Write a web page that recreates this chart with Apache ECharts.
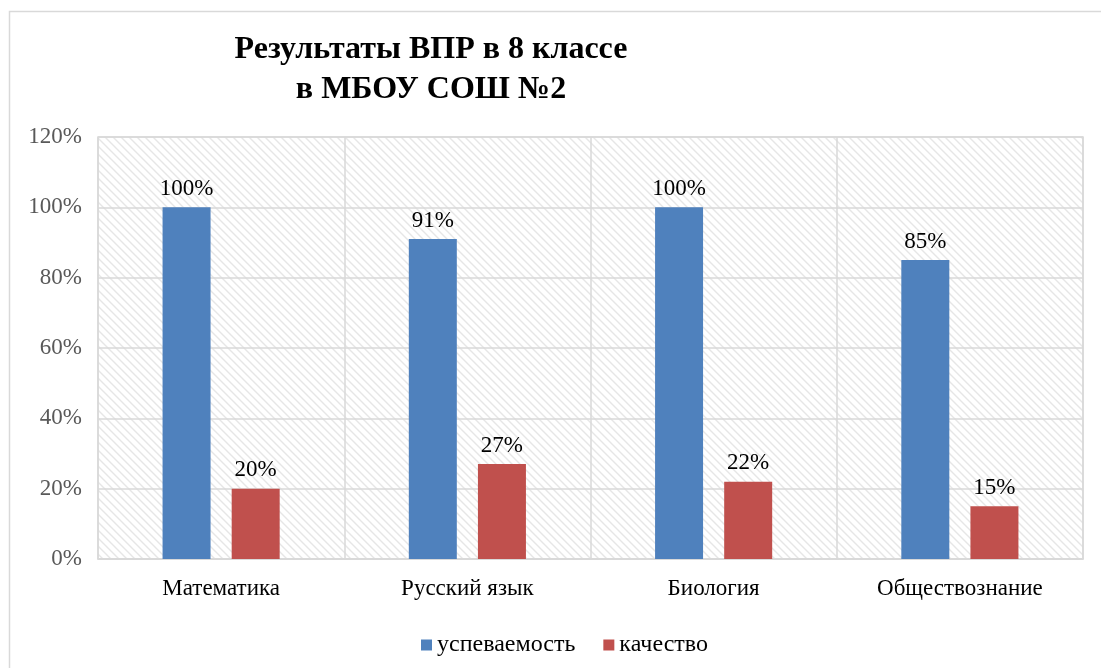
<!DOCTYPE html>
<html>
<head>
<meta charset="utf-8">
<script src="https://cdn.jsdelivr.net/npm/echarts@6/dist/echarts.min.js"></script>
<style>
html,body{margin:0;padding:0;background:#fff;}
#chart{width:1101px;height:668px;}
</style>
</head>
<body>
<div id="chart"></div>
<script>
var subjects = ['Математика', 'Русский язык', 'Биология', 'Обществознание'];
var uspev = [100, 91, 100, 85];
var kachestvo = [20, 27, 22, 15];
var yTicks = [0, 20, 40, 60, 80, 100, 120];

// штриховка фона области построения
function hatch() {
	var c = document.createElement('canvas');
	c.width = 8; c.height = 8;
	var ctx = c.getContext('2d');
	ctx.strokeStyle = '#e6e6e6';
	ctx.lineWidth = 1.4;
	ctx.beginPath();
	ctx.moveTo(-2, -2); ctx.lineTo(10, 10);
	ctx.moveTo(-2, 6); ctx.lineTo(2, 10);
	ctx.moveTo(6, -2); ctx.lineTo(10, 2);
	ctx.stroke();
	return c;
}

var font = '"Liberation Serif", "Times New Roman", serif';
var myChart = echarts.init(document.getElementById('chart'));
myChart.setOption({
	animation: false,
	backgroundColor: '#fff',
	textStyle: {fontFamily: font},
	title: {
		text: 'Результаты ВПР в 8 классе\nв МБОУ СОШ №2',
		left: 426,
		top: 25,
		textAlign: 'center',
		textStyle: {
			fontFamily: font,
			fontWeight: 'bold',
			fontSize: 32,
			lineHeight: 40,
			color: '#000'
		}
	},
	graphic: [{
		type: 'rect',
		shape: {x: 9.5, y: 11.5, width: 1100, height: 700},
		style: {fill: 'none', stroke: '#d9d9d9', lineWidth: 1.5},
		silent: true
	}],
	legend: {
		left: 416,
		top: 628,
		itemWidth: 11,
		itemHeight: 11,
		itemGap: 28,
		icon: 'rect',
		textStyle: {fontFamily: font, fontSize: 24, color: '#000'},
		data: ['успеваемость', 'качество']
	},
	grid: {
		left: 98,
		right: 18,
		top: 137,
		bottom: 109,
		show: true,
		borderColor: '#d9d9d9',
		borderWidth: 1.5,
		backgroundColor: {image: hatch(), repeat: 'repeat'}
	},
	xAxis: {
		type: 'category',
		data: subjects,
		boundaryGap: true,
		axisLine: {lineStyle: {color: '#d9d9d9', width: 1.5}},
		axisTick: {show: false},
		splitLine: {show: true, lineStyle: {color: '#d9d9d9', width: 1.5}},
		axisLabel: {fontFamily: font, fontSize: 23, color: '#000', margin: 18}
	},
	yAxis: {
		type: 'value',
		min: yTicks[0],
		max: yTicks[yTicks.length - 1],
		interval: 20,
		axisLine: {show: false},
		axisTick: {show: false},
		splitLine: {lineStyle: {color: '#d9d9d9', width: 1.5}},
		axisLabel: {
			fontFamily: font, fontSize: 23, color: '#595959', margin: 16,
			formatter: '{value}%'
		}
	},
	series: [
		{
			name: 'успеваемость',
			type: 'bar',
			data: uspev,
			barWidth: 48,
			barGap: '44%',
			itemStyle: {color: '#4f81bd'},
			label: {
				show: true, position: 'top', distance: 7,
				formatter: '{c}%',
				fontFamily: font, fontSize: 23, color: '#000'
			}
		},
		{
			name: 'качество',
			type: 'bar',
			data: kachestvo,
			barWidth: 48,
			itemStyle: {color: '#c0504d'},
			label: {
				show: true, position: 'top', distance: 7,
				formatter: '{c}%',
				fontFamily: font, fontSize: 23, color: '#000'
			}
		}
	]
});
</script>
</body>
</html>
